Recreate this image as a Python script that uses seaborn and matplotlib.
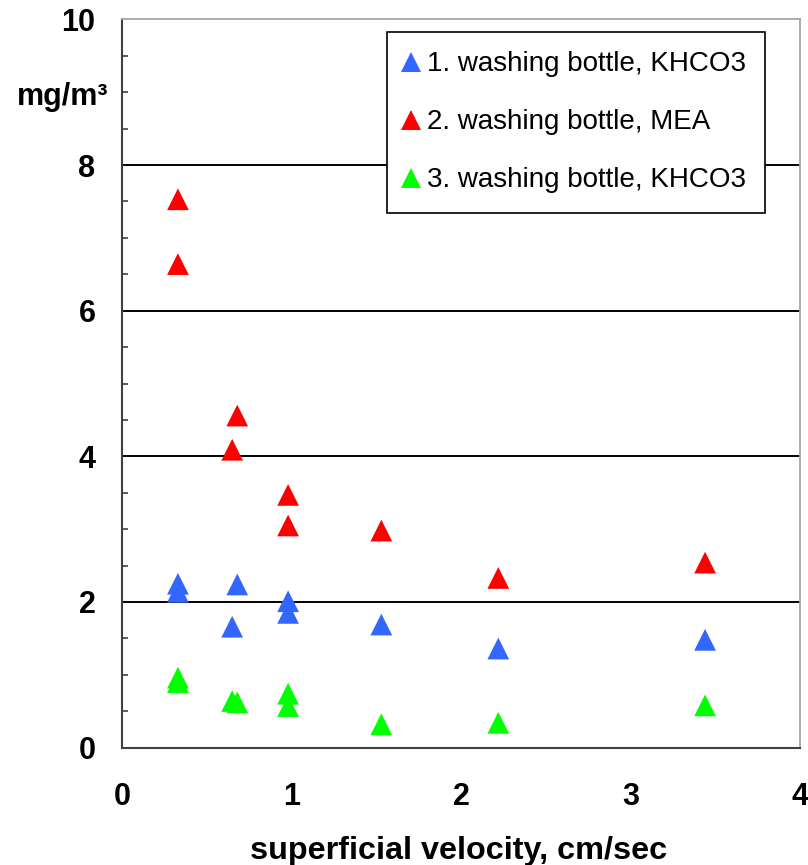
import matplotlib
matplotlib.use("Agg")
import matplotlib.pyplot as plt
import seaborn as sns
import pandas as pd
from matplotlib.ticker import MultipleLocator

# ---- data ----
velocity = [0.33, 0.33, 0.65, 0.68, 0.98, 0.98, 1.53, 2.22, 3.44]
bottle1_khco3 = [2.25, 2.14, 1.66, 2.24, 2.01, 1.85, 1.69, 1.36, 1.48]
bottle2_mea = [7.53, 6.64, 4.09, 4.56, 3.47, 3.05, 2.98, 2.33, 2.54]
bottle3_khco3 = [0.96, 0.90, 0.64, 0.62, 0.74, 0.57, 0.32, 0.34, 0.58]
series_labels = ["1. washing bottle, KHCO3", "2. washing bottle, MEA", "3. washing bottle, KHCO3"]
series_colors = ["#3366FF", "#FF0000", "#00FF00"]
x_ticks = [0, 1, 2, 3, 4]
y_ticks = [0, 2, 4, 6, 8, 10]
x_label = "superficial velocity, cm/sec"
y_label = "mg/m³"

rows = []
for lab, vals in zip(series_labels, [bottle1_khco3, bottle2_mea, bottle3_khco3]):
    for xv, yv in zip(velocity, vals):
        rows.append({"velocity": xv, "conc": yv, "series": lab})
df = pd.DataFrame(rows)

sns.set_style("white")
plt.rcParams["font.family"] = ["Liberation Sans", "DejaVu Sans"]
plt.rcParams["text.color"] = "black"
plt.rcParams["axes.labelcolor"] = "black"

W, H = 808, 865
fig = plt.figure(figsize=(W / 100, H / 100), dpi=100)
x0, x1, y0, y1 = 122, 800, 747.6, 19.4
ax = fig.add_axes([x0 / W, 1 - y0 / H, (x1 - x0) / W, (y0 - y1) / H])

sns.scatterplot(data=df, x="velocity", y="conc", hue="series",
                hue_order=series_labels, palette=series_colors,
                marker="^", s=245, linewidth=0, ax=ax, zorder=3)

ax.set_xlim(x_ticks[0], x_ticks[-1])
ax.set_ylim(y_ticks[0], y_ticks[-1])
ax.set_xticks(x_ticks)
ax.set_yticks(y_ticks)
ax.yaxis.set_minor_locator(MultipleLocator(0.5))

ax.set_axisbelow(True)
ax.yaxis.grid(True, which="major", color="black", linewidth=1.4)
ax.xaxis.grid(False)
gl = ax.get_ygridlines()
gl[0].set_visible(False)
gl[-1].set_visible(False)

for side in ["left", "bottom"]:
    ax.spines[side].set_color("#404040")
    ax.spines[side].set_linewidth(1.5)
for side in ["top", "right"]:
    ax.spines[side].set_color("#A6A6A6")
    ax.spines[side].set_linewidth(1.3)

ax.tick_params(axis="both", which="major", direction="out", length=7, width=1.2,
               color="#404040", labelcolor="black", labelsize=22)
ax.tick_params(axis="y", which="major", pad=12)
ax.tick_params(axis="x", which="major", pad=18)
ax.tick_params(axis="y", which="minor", direction="in", length=4.5, width=1.2,
               color="#404040", left=True)
for lbl in ax.get_xticklabels() + ax.get_yticklabels():
    lbl.set_fontweight("bold")

ax.set_xlabel(x_label, fontsize=23.3, fontweight="bold", va="baseline", ha="center")
ax.xaxis.set_label_coords(459 / W, 1 - 859 / H, transform=fig.transFigure)
ax.set_ylabel(y_label, fontsize=22, fontweight="bold", rotation=0, va="baseline", ha="right")
ax.yaxis.set_label_coords(108 / W, 1 - 105 / H, transform=fig.transFigure)

sns.move_legend(ax, "upper left", bbox_to_anchor=(387 / W, 1 - 32 / H),
                bbox_transform=fig.transFigure, title=None, frameon=True,
                fontsize=20, borderpad=0.7, handlelength=0.36, handletextpad=0.38,
                labelspacing=1.15, borderaxespad=0, fancybox=False, framealpha=1,
                edgecolor="black", markerscale=0.9)
leg = ax.get_legend()
leg.get_frame().set_linewidth(1.2)
for t in leg.get_texts():
    t.set_color("black")

fig.savefig("out.png", dpi=100)
